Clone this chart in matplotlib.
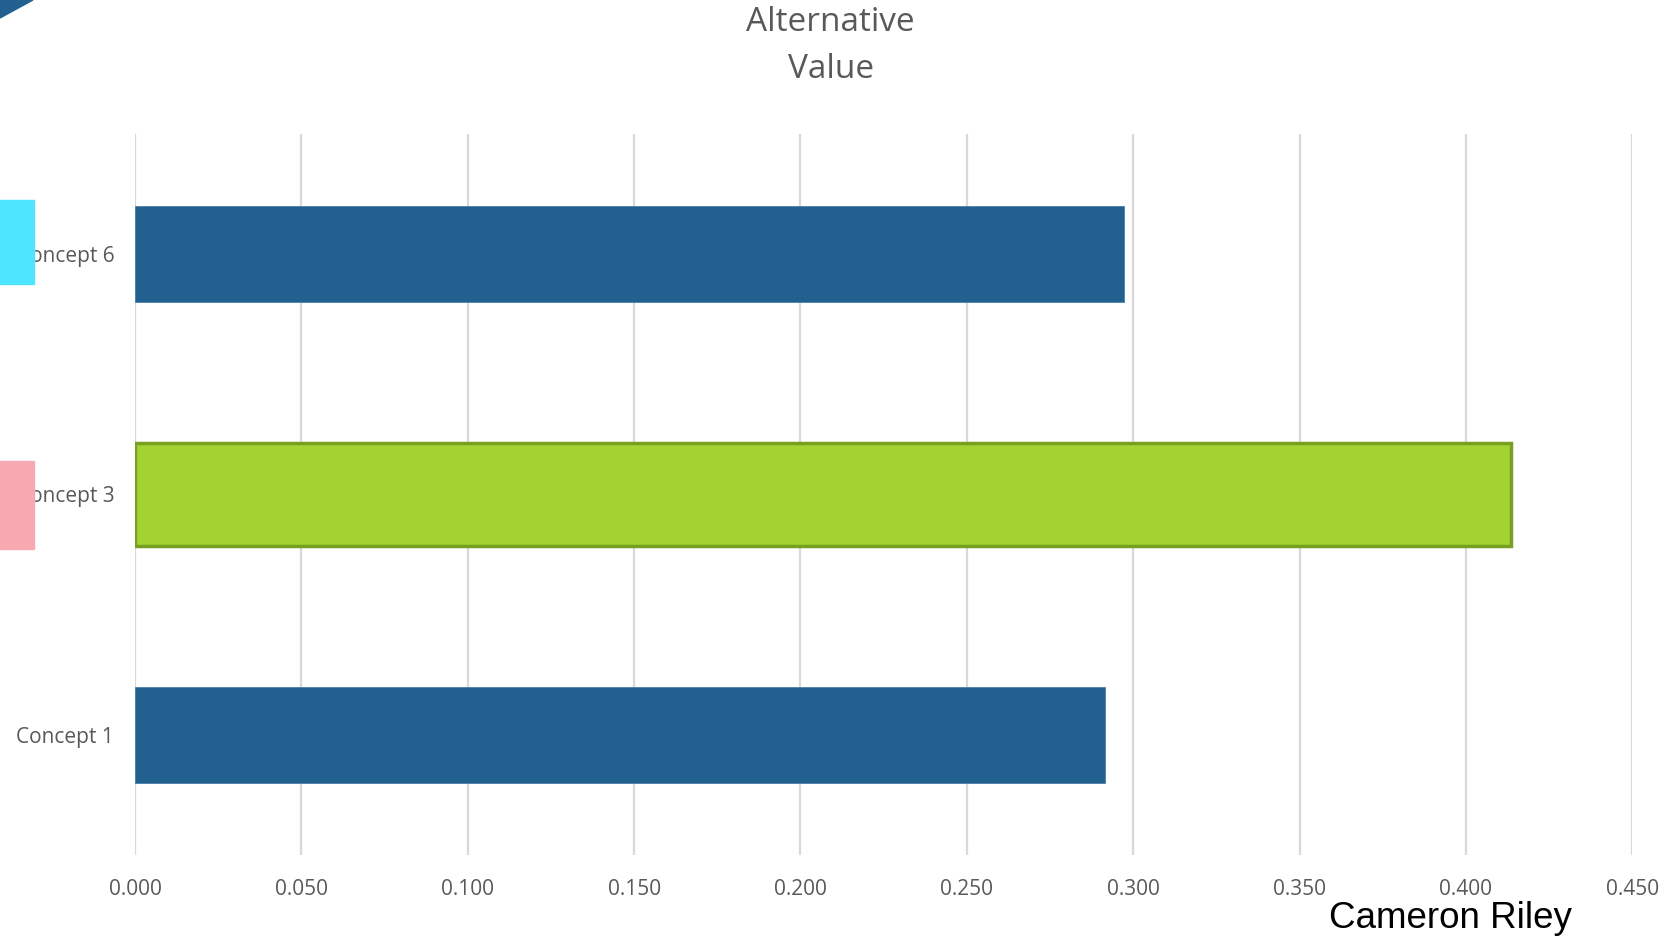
import matplotlib.pyplot as plt
from matplotlib.patches import Polygon, Rectangle

# data
concepts = ['Concept 1', 'Concept 3', 'Concept 6']
values = [0.2915, 0.4135, 0.2973]
xticks = [0.0, 0.05, 0.10, 0.15, 0.20, 0.25, 0.30, 0.35, 0.40, 0.45]

blue = '#22618F'
green = '#A4D233'
green_edge = '#78A020'
grey_txt = '#595959'

fig = plt.figure(figsize=(16.75, 9.39), dpi=100)
ax = fig.add_axes([0.0806, 0.0895, 0.8939, 0.7678])

pos = list(range(len(concepts)))
for p, v, c in zip(pos, values, concepts):
    if c == 'Concept 3':
        ax.barh(p, v, height=0.425, color=green, edgecolor=green_edge, linewidth=2.5, zorder=3)
    else:
        ax.barh(p, v, height=0.4, color=blue, edgecolor='#4A7FAA', linewidth=0.6, zorder=3)

ax.set_xlim(0, 0.45)
ax.set_ylim(-0.5, 2.5)
ax.set_xticks(xticks)
ax.set_xticklabels(['%.3f' % t for t in xticks])
ax.set_yticks(pos)
ax.set_yticklabels(concepts)
ax.xaxis.grid(True, color='#D9D9D9', linewidth=1.6, zorder=0)
ax.set_axisbelow(True)
for s in ax.spines.values():
    s.set_visible(False)
ax.tick_params(axis='both', length=0, labelcolor=grey_txt, labelsize=15)
ax.tick_params(axis='x', pad=17)
ax.tick_params(axis='y', pad=15)
for lab in ax.get_xticklabels() + ax.get_yticklabels():
    lab.set_fontfamily('Open Sans')

fig.text(0.496, 0.994, 'Alternative\nValue', ha='center', va='top', fontsize=24,
         color=grey_txt, family='Open Sans', linespacing=1.58)
fig.text(0.866, 0.022, 'Cameron Riley', ha='center', va='center', fontsize=26.5,
         color='black', family='Liberation Sans')

# decorations at left edge
fig.patches.append(Polygon([[0, 1], [33 / 1675, 1], [0, 1 - 18 / 939]], closed=True,
                           transform=fig.transFigure, color=blue, zorder=5))
fig.patches.append(Rectangle((0, 1 - 284 / 939), 34 / 1675, 84 / 939,
                             transform=fig.transFigure, color='#4DE5FF', zorder=5))
fig.patches.append(Rectangle((0, 1 - 549 / 939), 34 / 1675, 88 / 939,
                             transform=fig.transFigure, color='#F7A8B0', zorder=5))

fig.savefig('out.png', dpi=100)
